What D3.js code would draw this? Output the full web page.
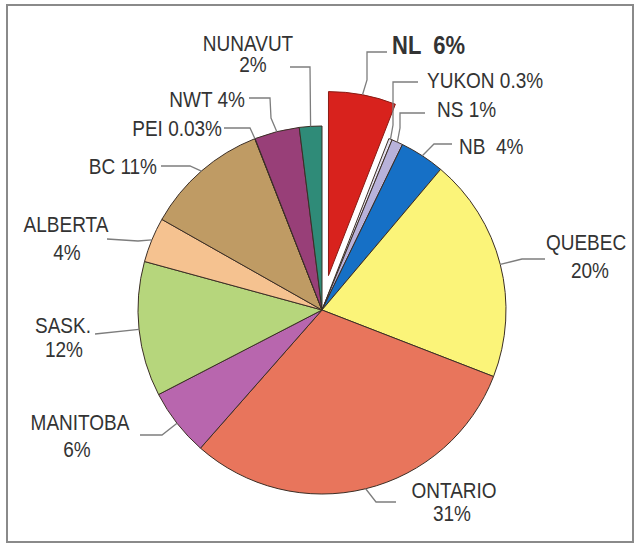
<!DOCTYPE html>
<html>
<head>
<meta charset="utf-8">
<script src="https://cdn.jsdelivr.net/npm/d3@7"></script>
<style>
  html, body { margin: 0; padding: 0; background: #fff; }
  svg { display: block; }
  text { font-family: "Liberation Sans", Arial, sans-serif; fill: #333; }
</style>
</head>
<body>
<svg id="chart" width="637" height="546"></svg>
<script>
// Provincial / territorial shares, clockwise from 12 o'clock
const regions = ["NL", "YUKON", "NS", "NB", "QUEBEC", "ONTARIO", "MANITOBA",
                 "SASK.", "ALBERTA", "BC", "PEI", "NWT", "NUNAVUT"];
const shares = [6, 0.3, 1, 4, 20, 31, 6, 12, 4, 11, 0.03, 4, 2];
const shareLabels = ["6%", "0.3%", "1%", "4%", "20%", "31%", "6%",
                     "12%", "4%", "11%", "0.03%", "4%", "2%"];
const sliceColors = ["#d8221d", "#e4e0ee", "#b8b2da", "#1670c6", "#fbf479",
                     "#e8755c", "#b866ae", "#b6d67c", "#f5c290", "#bf9b64",
                     "#6c5f96", "#983f78", "#2f8b78"];
const highlighted = "NL";

// Label layout: leader bend points (from the rim outwards) and text placement
const labelLayout = {
  "NL":       { path: [[367, 80], [367, 52], [387, 52]], lines: [{ t: "NL  6%", x: 392, y: 54, a: "start", bold: true }] },
  "YUKON":    { path: [[393, 125], [393, 82], [418, 82]], lines: [{ t: "YUKON 0.3%", x: 427, y: 88, a: "start" }] },
  "NS":       { path: [[400, 128], [400, 113], [425, 113]], lines: [{ t: "NS 1%", x: 437, y: 117, a: "start" }] },
  "NB":       { path: [[434, 144], [452, 144]], lines: [{ t: "NB  4%", x: 459, y: 154, a: "start" }] },
  "QUEBEC":   { path: [[522, 259], [545, 259]], lines: [{ t: "QUEBEC", x: 586, y: 250, a: "middle" }, { t: "20%", x: 590, y: 278, a: "middle" }] },
  "ONTARIO":  { path: [[376, 502], [396, 502]], lines: [{ t: "ONTARIO", x: 454, y: 498, a: "middle" }, { t: "31%", x: 452, y: 521, a: "middle" }] },
  "MANITOBA": { path: [[162, 435], [140, 435]], lines: [{ t: "MANITOBA", x: 80, y: 430, a: "middle" }, { t: "6%", x: 77, y: 457, a: "middle" }] },
  "SASK.":    { path: [[95, 334]], lines: [{ t: "SASK.", x: 63, y: 333, a: "middle" }, { t: "12%", x: 64, y: 357, a: "middle" }] },
  "ALBERTA":  { path: [[138, 241], [107, 239]], lines: [{ t: "ALBERTA", x: 66, y: 232, a: "middle" }, { t: "4%", x: 67, y: 260, a: "middle" }] },
  "BC":       { path: [[190, 166], [161, 166]], lines: [{ t: "BC 11%", x: 157, y: 174, a: "end" }] },
  "PEI":      { path: [[250, 128], [224, 128]], lines: [{ t: "PEI 0.03%", x: 222, y: 136, a: "end" }] },
  "NWT":      { path: [[271, 118], [270, 98], [249, 98]], lines: [{ t: "NWT 4%", x: 245, y: 107, a: "end" }] },
  "NUNAVUT":  { path: [[310, 67], [290, 67]], lines: [{ t: "NUNAVUT", x: 248, y: 51, a: "middle" }, { t: "2%", x: 253, y: 72, a: "middle" }] }
};

const svg = d3.select("#chart");
const cx = 322, cy = 310, radius = 184, explode = 35;

// outer frame
svg.append("rect")
  .attr("x", 7).attr("y", 5).attr("width", 626).attr("height", 537)
  .attr("fill", "#fff").attr("stroke", "#8a8a8a").attr("stroke-width", 2);

const data = regions.map((r, i) => ({ region: r, value: shares[i], label: shareLabels[i], color: sliceColors[i] }));

const pie = d3.pie().sort(null).value(d => d.value).startAngle(0).endAngle(2 * Math.PI);
const arcs = pie(data);

const arc = d3.arc().innerRadius(0).outerRadius(radius);
const rim = d3.arc().innerRadius(radius).outerRadius(radius);

const offsetOf = d => {
  if (d.data.region !== highlighted) return [0, 0];
  const mid = (d.startAngle + d.endAngle) / 2;
  return [Math.sin(mid) * explode, -Math.cos(mid) * explode];
};

const g = svg.append("g").attr("transform", `translate(${cx},${cy})`);

g.selectAll("path.slice")
  .data(arcs)
  .join("path")
  .attr("class", "slice")
  .attr("transform", d => `translate(${offsetOf(d)})`)
  .attr("d", arc)
  .attr("fill", d => d.data.color)
  .attr("stroke", d => d.data.region === highlighted ? "#8a1b14" : "#3b2e25")
  .attr("stroke-width", 1)
  .attr("stroke-linejoin", "round");

// leader lines from each slice rim to its label
const line = d3.line();
arcs.forEach(d => {
  const lay = labelLayout[d.data.region];
  const [ox, oy] = offsetOf(d);
  const [ax, ay] = rim.centroid(d);
  const pts = [[cx + ax + ox, cy + ay + oy], ...lay.path];
  svg.append("path")
    .attr("d", line(pts))
    .attr("fill", "none")
    .attr("stroke", "#7d7d7d")
    .attr("stroke-width", 1.3);
  lay.lines.forEach(l => {
    // labels are set slightly tall: stretch vertically about the baseline
    svg.append("text")
      .attr("transform", `translate(${l.x},${l.y}) scale(1,1.13)`)
      .attr("text-anchor", l.a)
      .attr("font-size", l.bold ? 22 : 19)
      .attr("font-weight", l.bold ? "bold" : "normal")
      .attr("xml:space", "preserve")
      .style("white-space", "pre")
      .text(l.t);
  });
});
</script>
</body>
</html>
